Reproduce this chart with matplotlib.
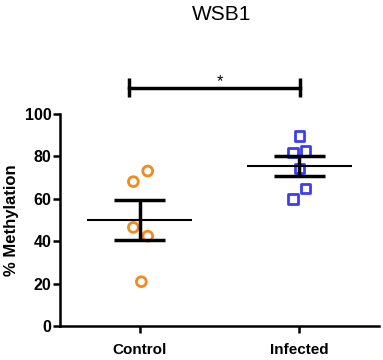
import matplotlib

matplotlib.use('Agg')
import matplotlib.pyplot as plt
import numpy as np

plt.rcParams['font.family'] = ['Liberation Sans', 'DejaVu Sans']

groups = ["Control", "Infected"]
control_x = [0.05, -0.04, -0.04, 0.05, 0.01]
control_y = [73.1, 68.1, 46.5, 42.4, 20.9]
infected_x = [0.00, -0.04, 0.04, 0.00, 0.04, -0.04]
infected_y = [89.6, 81.9, 82.5, 74.4, 64.9, 59.9]
y_ticks = [0, 20, 40, 60, 80, 100]

ORANGE = '#f28a1e'
BLUE = '#3c3cf5'


def mean_sem(vals):
    vals = np.array(vals)
    return vals.mean(), vals.std(ddof=1) / np.sqrt(len(vals))


fig = plt.figure(figsize=(3.83, 3.6), dpi=100)
ax = fig.add_axes([60 / 383, 1 - 326 / 360, 319 / 383, 212 / 360])

ax.scatter(control_x, control_y, s=50, facecolors='none', edgecolors=ORANGE,
           linewidths=2, marker='o', zorder=3)
ax.scatter([1 + x for x in infected_x], infected_y, s=45, facecolors='none',
           edgecolors=BLUE, linewidths=2, marker='s', zorder=3)

for i, vals in enumerate([control_y, infected_y]):
    m, s = mean_sem(vals)
    ax.hlines(m, i - 0.33, i + 0.33, color='black', lw=1.5, zorder=4)
    ax.hlines([m - s, m + s], i - 0.16, i + 0.16, color='black', lw=2.5, zorder=4)
    ax.vlines(i, m - s, m + s, color='black', lw=2.5, zorder=4)

# significance bar
ax.plot([-0.07, 1.005], [112.4, 112.4], color='black', lw=2.5, clip_on=False)
ax.vlines([-0.07, 1.005], 108, 117, color='black', lw=2.5, clip_on=False)
ax.text(0.5, 115.5, '*', ha='center', va='center', fontsize=12)

ax.set_xlim(-0.5, 1.5)
ax.set_ylim(0, 100)
ax.set_xticks([0, 1])
ax.set_xticklabels(groups, fontsize=11, fontweight='bold')
ax.set_yticks(y_ticks)
ax.set_yticklabels([str(t) for t in y_ticks], fontsize=11.5, fontweight='bold')
ax.set_ylabel('% Methylation', fontsize=12, fontweight='bold', labelpad=4)
ax.spines['top'].set_visible(False)
ax.spines['right'].set_visible(False)
ax.spines['left'].set_linewidth(1.8)
ax.spines['bottom'].set_linewidth(1.8)
ax.tick_params(axis='both', width=1.8, length=5)
ax.tick_params(axis='y', pad=1)
ax.tick_params(axis='x', pad=7)

fig.text(222 / 383, 1 - 14 / 360, 'WSB1', ha='center', va='center', fontsize=15)

fig.savefig('out.png', dpi=100)
